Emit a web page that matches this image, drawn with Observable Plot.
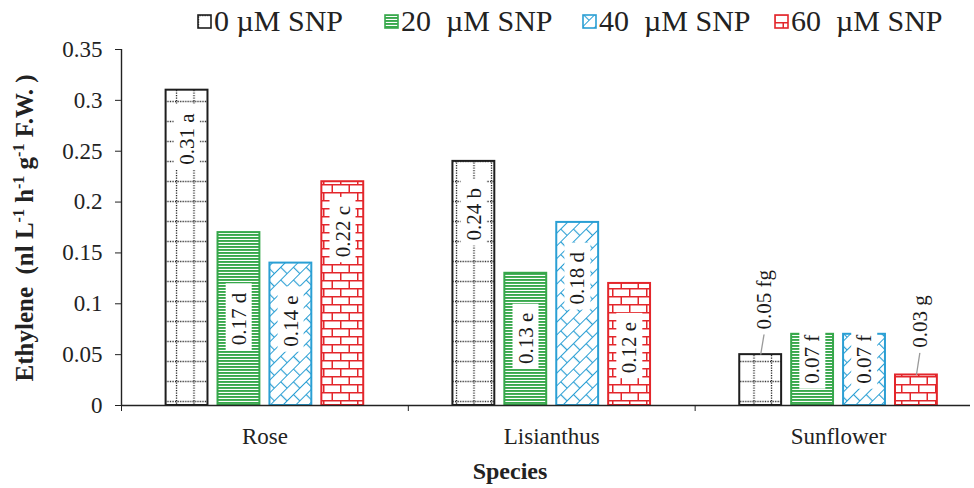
<!DOCTYPE html>
<html>
<head>
<meta charset="utf-8">
<script src="https://cdn.jsdelivr.net/npm/d3@7"></script>
<script src="https://cdn.jsdelivr.net/npm/@observablehq/plot@0.6"></script>
<style>
  body { margin: 0; background: #fff; }
  #fig { position: relative; width: 974px; height: 488px; font-family: "Liberation Serif", "Times New Roman", serif; }
  #fig > svg { position: absolute; left: 0; top: 0; }
  #fig svg text { font-family: "Liberation Serif", "Times New Roman", serif !important; }
  #legend { position: absolute; top: 0; left: 0; width: 974px; height: 44px; font-size: 30px; color: #222; white-space: pre; z-index: 2; }
  #legend .item { position: absolute; top: 4px; display: flex; align-items: center; }
  #legend .item svg { margin-right: 2px; }
</style>
</head>
<body>
<div id="fig"><div id="legend"></div></div>
<script>
// Ethylene production (nl L-1 h-1 g-1 F.W.) by species and SNP treatment
const species = ["Rose", "Lisianthus", "Sunflower"];
const treatments = ["0 µM SNP", "20  µM SNP", "40  µM SNP", "60  µM SNP"];
const rose = [0.31, 0.17, 0.14, 0.22];
const lisianthus = [0.24, 0.13, 0.18, 0.12];
const sunflower = [0.05, 0.07, 0.07, 0.03];
const roseLetters = ["a", "d", "e", "c"];
const lisianthusLetters = ["b", "e", "d", "e"];
const sunflowerLetters = ["fg", "f", "f", "g"];
const yTicks = [0, 0.05, 0.1, 0.15, 0.2, 0.25, 0.3, 0.35];

// where each value label sits (y, in axis units); null end = no leader line
const labelAt = [
  [0.262, 0.085, 0.083, 0.171],
  [0.188, 0.066, 0.125, 0.057],
  [0.104, 0.0455, 0.0455, 0.0826]
];
const leaderEnd = [
  [null, null, null, null],
  [null, null, null, null],
  [0.0705, null, null, 0.052]
];
// legend item left edges (px)
const legendLeft = [197, 384, 582, 774];

const colors = ["#1e1e1e", "#37a84b", "#2a9fd4", "#e3262b"];
const pitch = 0.181, half = 0.073; // bar spacing and half-width, in band units

const values = [rose, lisianthus, sunflower];
const letters = [roseLetters, lisianthusLetters, sunflowerLetters];
const rows = species.flatMap((s, i) => values[i].map((v, k) => ({
  s: i, k, v,
  label: v.toFixed(2) + " " + letters[i][k],
  at: labelAt[i][k],
  end: leaderEnd[i][k]
})));
const cx = d => d.s + 0.5 + (d.k - 1.5) * pitch;
const serif = "Liberation Serif, Times New Roman, serif";

const plot = Plot.plot({
  width: 974,
  height: 488,
  marginLeft: 121,
  marginRight: 4,
  marginTop: 49,
  marginBottom: 83,
  x: { type: "linear", domain: [0, 2.96] },
  y: { domain: [0, 0.35] },
  color: { type: "identity" },
  style: { fontFamily: serif, fontSize: "23px", color: "#222", background: "transparent" },
  marks: [
    Plot.rect(rows, {
      x1: d => cx(d) - half, x2: d => cx(d) + half,
      y1: 0, y2: "v",
      fill: d => `url(#pat${d.k})`,
      stroke: d => colors[d.k],
      strokeWidth: 2
    }),
    Plot.link(rows.filter(d => d.end != null), {
      x1: cx, y1: "v", x2: d => cx(d) + 0.012, y2: "end",
      stroke: "#9a9a9a", strokeWidth: 1.3
    }),
    Plot.text(rows, {
      x: d => cx(d) + (d.end != null ? 0.014 : 0), y: "at", text: "label",
      rotate: -90, fontSize: 21, fill: "#1a1a1a", fontFamily: serif
    }),
    Plot.ruleY([0], { stroke: "#222", strokeWidth: 1.4 }),
    Plot.ruleX([0], { y1: 0, y2: 0.35, stroke: "#222", strokeWidth: 1.4 }),
    Plot.axisY(yTicks, { tickSize: 6, tickPadding: 13, tickFormat: d => String(d), label: null, stroke: "#222", fontFamily: serif, fontSize: 23 }),
    Plot.axisX([0, 1, 2], { tickSize: 6, tickFormat: () => "", label: null, stroke: "#222" }),
    Plot.axisX([0.5, 1.5, 2.5], { tickSize: 0, tickPadding: 22, tickFormat: d => species[Math.floor(d)], label: null, fontFamily: serif, fontSize: 23 })
  ]
});

const fig = document.getElementById("fig");
fig.appendChild(plot);
const svg = d3.select(plot);

// fill patterns: dotted grid, horizontal stripes, diagonal brick, horizontal brick
const defs = svg.insert("defs", ":first-child");
function pattern(id, w, h, draw, transform) {
  const p = defs.append("pattern").attr("id", id)
    .attr("patternUnits", "userSpaceOnUse").attr("width", w).attr("height", h);
  if (transform) p.attr("patternTransform", transform);
  p.append("rect").attr("width", w).attr("height", h).attr("fill", "#fff");
  draw(p);
}
pattern("pat0", 17.5, 20, p => {
  p.append("path").attr("d", "M1.5,0V20M0,1.5H17.5")
    .attr("stroke", "#222").attr("stroke-width", 1.3).attr("stroke-dasharray", "1.2 1.3");
});
pattern("pat1", 4, 3, p => {
  p.append("rect").attr("y", 0).attr("width", 4).attr("height", 1.9).attr("fill", colors[1]);
});
pattern("pat2", 18, 18, p => {
  p.append("path").attr("d", "M0,0.5H18M0,9.5H18M0.5,0V9.5M9.5,9.5V18")
    .attr("stroke", colors[2]).attr("stroke-width", 1.2).attr("fill", "none");
}, "rotate(-45)");
pattern("pat3", 17, 16, p => {
  p.append("path").attr("d", "M0,0.75H17M0,8.75H17M0.75,0V8.75M9.25,8.75V16")
    .attr("stroke", colors[3]).attr("stroke-width", 1.5).attr("fill", "none");
});

// white boxes behind the rotated value labels (the only plain "text" mark);
// the box reaches a little further past the end of the text than its start
svg.selectAll('g[aria-label="text"] text').each(function () {
  const b = this.getBBox();
  d3.select(this.parentNode).insert("rect", () => this)
    .attr("x", b.x - 5).attr("y", b.y - 1)
    .attr("width", b.width + 14).attr("height", b.height + 2)
    .attr("fill", "#fff")
    .attr("transform", this.getAttribute("transform"));
});

// axis titles
const yTitle = svg.append("text")
  .attr("transform", "translate(33,228) rotate(-90)")
  .attr("text-anchor", "middle")
  .attr("font-weight", "bold").attr("font-size", 25)
  .attr("fill", "#222").style("white-space", "pre");
[["Ethylene  (nl L", 0], ["-1", 1], [" h", 0], ["-1", 1], [" g", 0], ["-1", 1], [" F.W. )", 0]]
  .forEach(([t, sup], i, arr) => {
    const prevSup = i > 0 && arr[i - 1][1];
    yTitle.append("tspan")
      .attr("dy", sup ? -9 : (prevSup ? 9 : 0))
      .attr("font-size", sup ? 16 : 25)
      .text(t);
  });
svg.append("text")
  .attr("x", 510).attr("y", 479)
  .attr("text-anchor", "middle")
  .attr("font-weight", "bold").attr("font-size", 24)
  .attr("fill", "#222")
  .text("Species");

// legend
const legend = d3.select("#legend");
treatments.forEach((t, k) => {
  const item = legend.append("div").attr("class", "item").style("left", legendLeft[k] + "px");
  const sw = item.append("svg").attr("width", 15).attr("height", 15);
  sw.append("rect").attr("x", 1).attr("y", 1).attr("width", 13).attr("height", 13)
    .attr("fill", `url(#pat${k})`).attr("stroke", colors[k]).attr("stroke-width", 1.6);
  item.append("span").text(t);
});
</script>
</body>
</html>
